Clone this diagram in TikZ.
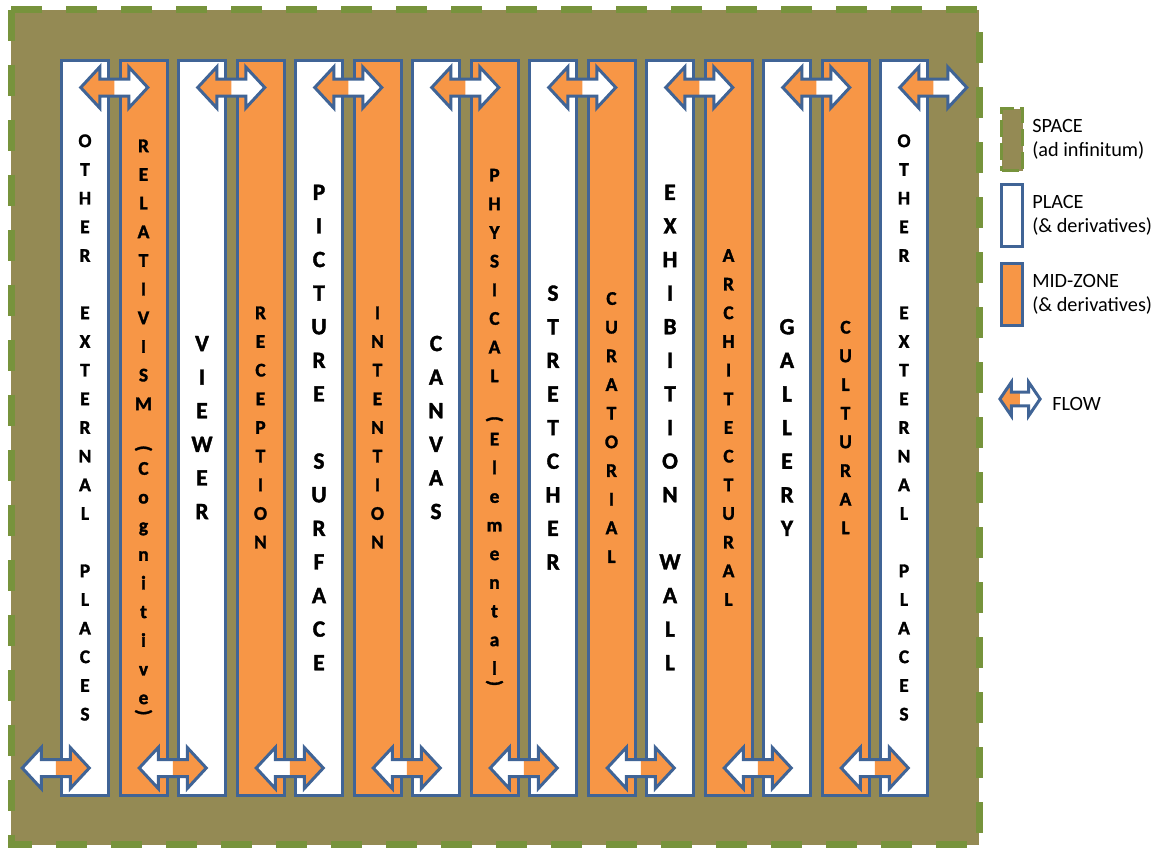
\documentclass[tikz,border=0pt]{standalone}
\usepackage{fontspec}
\setmainfont{Carlito}
\newfontfamily\zonefont{Carlito}[BoldFeatures={FakeBold=1.6}]
\usepackage{graphicx}
\definecolor{placeblue}{RGB}{64,100,150}
\definecolor{midorange}{RGB}{247,150,70}
\definecolor{spaceolive}{RGB}{148,138,84}
\definecolor{spacegreen}{RGB}{119,147,60}
\newcommand{\parup}{\rotatebox{-90}{(}}
\newcommand{\pardown}{\rotatebox{-90}{)}}
\tikzset{
  spaceline/.style={draw=spacegreen, fill=spaceolive, line width=5.25pt, dash pattern=on 23.25pt off 18pt},
  zone/.style={draw=placeblue, line width=2.25pt, minimum width=35.25pt, minimum height=551.25pt, inner sep=0pt, align=center},
  place/.style={zone, fill=white, font=\zonefont\fontsize{17.5}{25.2}\selectfont\bfseries},
  longplace/.style={zone, fill=white, font=\zonefont\fontsize{14.5}{21.5}\selectfont\bfseries},
  midzone/.style={zone, fill=midorange, font=\zonefont\fontsize{14.5}{21.5}\selectfont\bfseries},
  keybox/.style={zone, minimum width=15.75pt, minimum height=46.5pt},
  keytext/.style={anchor=west, inner sep=0pt, align=left, font=\fontsize{15.2}{18}\selectfont},
  pics/flowpair/.style 2 args={code={
    \fill[#1] (-33.5,0) -- (-14.5,-20.5) -- (-14.5,-8.5) -- (0.5,-8.5) -- (0.5,8.5) -- (-14.5,8.5) -- (-14.5,20.5) -- cycle;
    \fill[#2] (33.5,0) -- (14.5,-20.5) -- (14.5,-8.5) -- (0,-8.5) -- (0,8.5) -- (14.5,8.5) -- (14.5,20.5) -- cycle;
    \draw[placeblue, line width=2.25pt] (-33.5,0) -- (-14.5,-20.5) -- (-14.5,-8.5) -- (14.5,-8.5) -- (14.5,-20.5) -- (33.5,0)
      -- (14.5,20.5) -- (14.5,8.5) -- (-14.5,8.5) -- (-14.5,20.5) -- cycle;
  }}
}
\begin{document}
\begin{tikzpicture}[x=0.75pt,y=-0.75pt]
\useasboundingbox (0,0) rectangle (1162,847);
\draw[spaceline] (11,9.5) rectangle (979,844.5);

\node[longplace] (others1) at (85,427.5) {O\\T\\H\\E\\R\\~\\E\\X\\T\\E\\R\\N\\A\\L\\~\\P\\L\\A\\C\\E\\S};
\node[midzone] (relativism) at (143.5,427.5) {R\\E\\L\\A\\T\\I\\V\\I\\S\\M\\[5pt]\parup\\[0.5pt]C\\o\\g\\n\\i\\t\\i\\v\\e\\[-17.5pt]\pardown};
\node[place] (viewer) at (202,427.5) {V\\I\\E\\W\\E\\R};
\node[midzone] (reception) at (260.5,427.5) {R\\E\\C\\E\\P\\T\\I\\O\\N};
\node[place] (surface) at (319,427.5) {P\\I\\C\\T\\U\\R\\E\\~\\S\\U\\R\\F\\A\\C\\E};
\node[midzone] (intention) at (377.5,427.5) {I\\N\\T\\E\\N\\T\\I\\O\\N};
\node[place] (canvas) at (436,427.5) {C\\A\\N\\V\\A\\S};
\node[midzone] (physical) at (494.5,427.5) {P\\H\\Y\\S\\I\\C\\A\\L\\[4pt]\parup\\[0.5pt]E\\l\\e\\m\\e\\n\\t\\a\\l\\[-17.5pt]\pardown};
\node[place] (stretcher) at (553,427.5) {S\\T\\R\\E\\T\\C\\H\\E\\R};
\node[midzone] (curatorial) at (611.5,427.5) {C\\U\\R\\A\\T\\O\\R\\I\\A\\L};
\node[place] (wall) at (670,427.5) {E\\X\\H\\I\\B\\I\\T\\I\\O\\N\\~\\W\\A\\L\\L};
\node[midzone] (architectural) at (728.5,427.5) {A\\R\\C\\H\\I\\T\\E\\C\\T\\U\\R\\A\\L};
\node[place] (gallery) at (787,427.5) {G\\A\\L\\L\\E\\R\\Y};
\node[midzone] (cultural) at (845.5,427.5) {C\\U\\L\\T\\U\\R\\A\\L};
\node[longplace] (others2) at (904,427.5) {O\\T\\H\\E\\R\\~\\E\\X\\T\\E\\R\\N\\A\\L\\~\\P\\L\\A\\C\\E\\S};

\pic at (114.25,87.5) {flowpair={midorange}{white}};
\pic at (231.25,87.5) {flowpair={midorange}{white}};
\pic at (348.25,87.5) {flowpair={midorange}{white}};
\pic at (465.25,87.5) {flowpair={midorange}{white}};
\pic at (582.25,87.5) {flowpair={midorange}{white}};
\pic at (699.25,87.5) {flowpair={midorange}{white}};
\pic at (816.25,87.5) {flowpair={midorange}{white}};
\pic at (933.25,87.5) {flowpair={midorange}{white}};

\pic at (55.75,768) {flowpair={white}{midorange}};
\pic at (172.75,768) {flowpair={white}{midorange}};
\pic at (289.75,768) {flowpair={white}{midorange}};
\pic at (406.75,768) {flowpair={white}{midorange}};
\pic at (523.75,768) {flowpair={white}{midorange}};
\pic at (640.75,768) {flowpair={white}{midorange}};
\pic at (757.75,768) {flowpair={white}{midorange}};
\pic at (874.75,768) {flowpair={white}{midorange}};

\node[keybox, draw=spacegreen, fill=spaceolive, dash pattern=on 12.75pt off 4.5pt] (keyspace) at (1012,139.5) {};
\node[keybox, fill=white] (keyplace) at (1012,215.5) {};
\node[keybox, fill=midorange] (keymid) at (1012,294.5) {};
\pic[xscale=0.6, yscale=0.82] at (1020,399) {flowpair={midorange}{white}};

\node[keytext] (spacetext) at (1032,139.5) {SPACE\\(ad infinitum)};
\node[keytext] (placetext) at (1032,215.5) {PLACE\\(\& derivatives)};
\node[keytext] (midtext) at (1032,294.5) {MID-ZONE\\(\& derivatives)};
\node[keytext] (flowtext) at (1052,404) {FLOW};
\end{tikzpicture}
\end{document}
